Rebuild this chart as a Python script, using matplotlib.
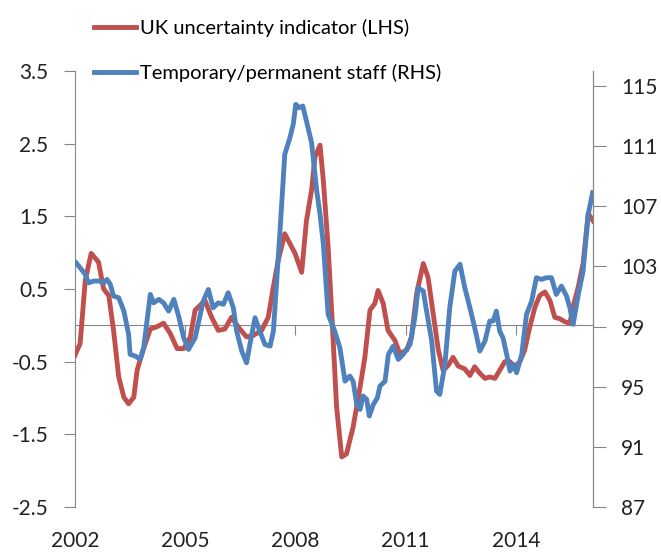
import matplotlib
matplotlib.use('Agg')
import matplotlib.pyplot as plt

plt.rcParams['font.family'] = ['Lato', 'DejaVu Sans']

# UK uncertainty indicator (LHS)
unc_year = [2002.00, 2002.14, 2002.28, 2002.44, 2002.64, 2002.78, 2002.92, 2003.05, 2003.19, 2003.33,
            2003.46, 2003.60, 2003.69, 2003.82, 2004.05, 2004.23, 2004.41, 2004.59, 2004.78, 2004.96,
            2005.14, 2005.27, 2005.54, 2005.72, 2005.90, 2006.08, 2006.26, 2006.44, 2006.67, 2006.85,
            2007.08, 2007.26, 2007.40, 2007.53, 2007.71, 2007.99, 2008.17, 2008.30, 2008.44, 2008.53,
            2008.67, 2008.76, 2008.89, 2008.99, 2009.12, 2009.26, 2009.39, 2009.57, 2009.76, 2009.89,
            2010.03, 2010.16, 2010.25, 2010.39, 2010.52, 2010.71, 2010.84, 2011.03, 2011.16, 2011.30,
            2011.48, 2011.61, 2011.75, 2011.89, 2012.02, 2012.16, 2012.29, 2012.43, 2012.61, 2012.75,
            2012.88, 2013.02, 2013.16, 2013.29, 2013.43, 2013.56, 2013.70, 2013.84, 2013.97, 2014.11,
            2014.24, 2014.38, 2014.52, 2014.65, 2014.79, 2014.93, 2015.06, 2015.20, 2015.33, 2015.47,
            2015.58, 2015.70, 2015.83, 2015.97, 2016.10]
unc_val = [-0.41, -0.25, 0.62, 0.99, 0.87, 0.50, 0.41, -0.07, -0.71, -0.99,
           -1.08, -0.99, -0.62, -0.39, -0.05, -0.02, 0.03, -0.11, -0.32, -0.32,
           -0.16, 0.21, 0.34, 0.11, -0.07, -0.05, 0.11, -0.02, -0.16, -0.14,
           -0.07, 0.11, 0.53, 0.89, 1.26, 0.99, 0.73, 1.44, 1.86, 2.31,
           2.48, 1.99, 1.08, 0.16, -1.12, -1.81, -1.77, -1.40, -0.85, -0.44,
           0.21, 0.30, 0.48, 0.30, -0.07, -0.21, -0.39, -0.34, -0.16, 0.44,
           0.85, 0.66, 0.16, -0.34, -0.62, -0.55, -0.44, -0.56, -0.60, -0.69,
           -0.57, -0.66, -0.73, -0.71, -0.73, -0.62, -0.50, -0.50, -0.57, -0.50,
           -0.34, -0.02, 0.25, 0.41, 0.46, 0.34, 0.11, 0.09, 0.05, 0.03,
           0.30, 0.53, 0.85, 1.54, 1.44]

# Temporary/permanent staff (RHS)
staff_year = [2002.03, 2002.14, 2002.28, 2002.37, 2002.51, 2002.64, 2002.78, 2002.87, 2002.96, 2003.05,
              2003.19, 2003.33, 2003.46, 2003.50, 2003.64, 2003.78, 2003.87, 2003.96, 2004.05, 2004.14,
              2004.28, 2004.41, 2004.55, 2004.69, 2004.82, 2004.96, 2005.09, 2005.27, 2005.41, 2005.49,
              2005.63, 2005.76, 2005.90, 2006.04, 2006.17, 2006.31, 2006.40, 2006.54, 2006.67, 2006.76,
              2006.90, 2007.03, 2007.17, 2007.31, 2007.40, 2007.49, 2007.58, 2007.71, 2007.85, 2007.94,
              2008.01, 2008.10, 2008.20, 2008.30, 2008.44, 2008.58, 2008.67, 2008.76, 2008.89, 2009.07,
              2009.21, 2009.35, 2009.48, 2009.57, 2009.67, 2009.76, 2009.84, 2009.94, 2010.01, 2010.12,
              2010.23, 2010.30, 2010.44, 2010.53, 2010.66, 2010.80, 2010.93, 2011.12, 2011.25, 2011.34,
              2011.48, 2011.57, 2011.71, 2011.84, 2011.93, 2012.07, 2012.20, 2012.34, 2012.48, 2012.61,
              2012.75, 2012.88, 2013.02, 2013.16, 2013.29, 2013.38, 2013.47, 2013.56, 2013.65, 2013.75,
              2013.84, 2013.93, 2014.02, 2014.16, 2014.29, 2014.43, 2014.56, 2014.70, 2014.83, 2014.97,
              2015.10, 2015.24, 2015.38, 2015.47, 2015.56, 2015.70, 2015.83, 2015.97, 2016.09]
staff_val = [103.24, 102.91, 102.47, 101.91, 102.03, 102.03, 101.91, 102.14, 101.81, 101.03,
             100.92, 100.03, 98.48, 97.15, 97.04, 96.82, 97.59, 99.37, 101.14, 100.58,
             100.81, 100.58, 100.03, 100.81, 99.70, 98.25, 97.48, 98.25, 99.81, 100.70,
             101.47, 100.25, 100.58, 100.48, 101.25, 100.25, 98.70, 97.37, 96.59, 97.81,
             99.59, 98.70, 97.81, 97.70, 98.70, 102.03, 105.35, 110.46, 111.56, 112.45,
             113.78, 113.56, 113.67, 112.67, 111.23, 108.02, 106.47, 104.50, 99.81, 98.70,
             97.59, 95.37, 95.71, 95.37, 93.82, 93.49, 94.38, 94.16, 93.05, 93.82,
             94.26, 95.04, 95.37, 97.15, 97.70, 96.82, 97.15, 97.81, 99.59, 101.58,
             101.36, 100.03, 98.04, 94.71, 94.49, 96.49, 100.25, 102.69, 103.14, 101.58,
             100.25, 98.92, 97.37, 98.04, 99.37, 99.37, 100.03, 98.70, 98.25, 97.15,
             96.04, 96.49, 95.93, 97.15, 99.81, 100.70, 102.25, 102.14, 102.25, 102.25,
             101.14, 101.69, 101.03, 100.25, 99.15, 101.14, 102.69, 106.47, 107.91]

year_ticks = [2002, 2005, 2008, 2011, 2014]
left_ticks = [-2.5, -1.5, -0.5, 0.5, 1.5, 2.5, 3.5]
right_ticks = [87, 91, 95, 99, 103, 107, 111, 115]

red = '#C0504D'
blue = '#4F81BD'
axis_grey = '#868686'
fs = 15

fig = plt.figure(figsize=(6.61, 5.54), dpi=100)
ax = fig.add_axes([75 / 661, 1 - 507 / 554, (593 - 75) / 661, (507 - 71) / 554])
ax2 = ax.twinx()

l1, = ax.plot(unc_year, unc_val, color=red, lw=3.5, solid_joinstyle='round',
              label='UK uncertainty indicator (LHS)', zorder=3)
l2, = ax2.plot(staff_year, staff_val, color=blue, lw=3.5, solid_joinstyle='round',
               label='Temporary/permanent staff (RHS)', zorder=3)

ax.set_xlim(2002, 2016.1)
ax.set_ylim(-2.5, 3.5)
ax2.set_ylim(87, 116)

ax.set_yticks(left_ticks)
ax.set_yticklabels([f'{t:.1f}' for t in left_ticks])
ax2.set_yticks(right_ticks)

for a in (ax, ax2):
    for s in a.spines.values():
        s.set_color(axis_grey)
    a.spines['top'].set_visible(False)
ax2.spines['bottom'].set_visible(False)
ax2.spines['left'].set_visible(False)

# x axis line at zero, with tick marks there
ax.spines['bottom'].set_position(('data', 0))
ax.set_xticks(year_ticks)
ax.tick_params(axis='x', direction='out', length=7, color=axis_grey, labelbottom=False)
ax.tick_params(axis='y', direction='out', length=8, color=axis_grey, pad=11,
               labelsize=fs, labelcolor='#222222')
ax2.tick_params(axis='y', direction='out', length=9, color=axis_grey, pad=11,
                labelsize=fs, labelcolor='#222222')

# year labels at the bottom of the plot
sec = ax.secondary_xaxis(0.0)
sec.set_xticks(year_ticks)
sec.set_xticklabels([str(y) for y in year_ticks])
sec.spines['bottom'].set_visible(False)
sec.tick_params(axis='x', length=0, pad=17, labelsize=fs, labelcolor='#222222')

fig.legend(handles=[l1, l2], loc='upper left', bbox_to_anchor=(94 / 661, 1 - 19 / 554),
           frameon=False, fontsize=14.5, handlelength=2.1, handletextpad=0.2,
           labelspacing=1.35, borderpad=0, borderaxespad=0)

fig.savefig('out.png', dpi=100)
